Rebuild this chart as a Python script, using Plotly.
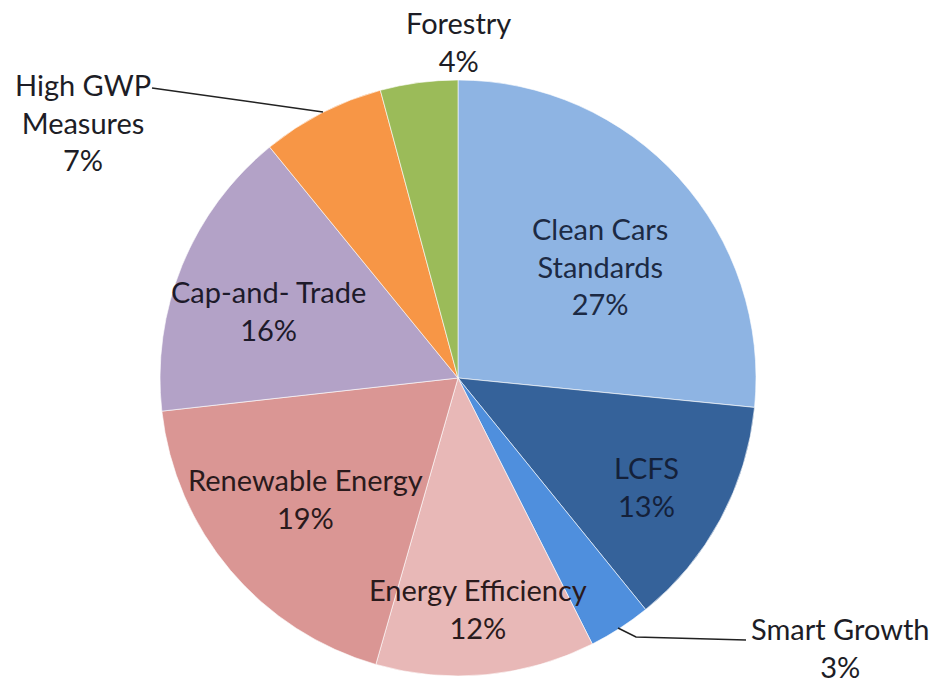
import plotly.graph_objects as go

# ---- data ----
categories = ["Clean Cars<br>Standards", "LCFS", "Smart Growth", "Energy Efficiency",
              "Renewable Energy", "Cap-and- Trade", "High GWP<br>Measures", "Forestry"]
shares = [26.6, 12.6, 3.4, 11.9, 18.8, 15.9, 6.7, 4.2]
colors = ["#8EB4E3", "#35629A", "#4F8FDD", "#E8B8B7", "#DA9694", "#B3A2C7", "#F79646", "#9BBB59"]
text_colors = ["#1c2a44", "#14213a", "#1d1d26", "#2a1a1c", "#2a1a1c", "#1d1a2a", "#1d1d26", "#1d1d26"]

W, H = 937, 682
OFF = 8  # page body margin offset
cx, cy, r = 458 - OFF, 378 - OFF, 298

fig = go.Figure(go.Pie(
    values=shares, labels=categories, sort=False, direction="clockwise", rotation=0,
    marker=dict(colors=colors, line=dict(color="rgba(255,255,255,0.6)", width=1)),
    textinfo="none", hoverinfo="label+percent", showlegend=False,
    domain=dict(x=[(cx - r) / W, (cx + r) / W], y=[1 - (cy + r) / H, 1 - (cy - r) / H]),
))

total = sum(shares)
pct = [f"{round(v / total * 100)}%" for v in shares]

# label anchor positions in reference pixels (center of text block)
label_pos = [(600, 266), (646, 486), (840, 647), (478, 608),
             (305, 498), (268, 310), (83, 122), (458, 42)]

def px(x, y):
    return (x - OFF) / W, 1 - (y - OFF) / H

annotations = []
for name, p, (lx, ly), tc in zip(categories, pct, label_pos, text_colors):
    ax, ay = px(lx, ly)
    annotations.append(dict(
        x=ax, y=ay, xref="paper", yref="paper", showarrow=False,
        text=f"{name}<br>{p}", align="center",
        font=dict(family="Lato", size=29, color=tc),
        xanchor="center", yanchor="middle",
    ))

shapes = []
def seg(pts):
    coords = [px(x, y) for x, y in pts]
    d = "M " + " L ".join(f"{a},{b}" for a, b in coords)
    return dict(type="path", path=d, xref="paper", yref="paper",
                line=dict(color="#222222", width=1.5))

shapes.append(seg([(152, 88), (323, 112)]))
shapes.append(seg([(618, 628), (636, 637), (746, 640)]))

fig.update_layout(
    width=W, height=H, margin=dict(l=0, r=0, t=0, b=0),
    paper_bgcolor="white", plot_bgcolor="white",
    annotations=annotations, shapes=shapes,
)

fig.write_html("out.html")
